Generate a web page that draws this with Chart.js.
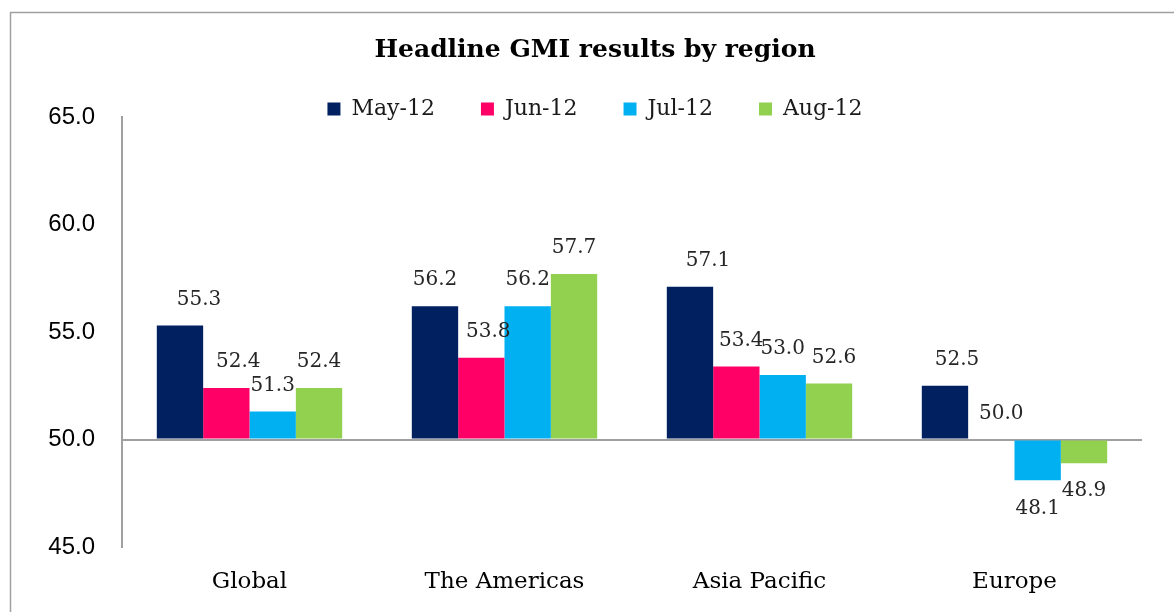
<!DOCTYPE html>
<html><head><meta charset="utf-8">
<script src="https://cdn.jsdelivr.net/npm/chart.js@4"></script>
<style>html,body{margin:0;padding:0;background:#fff}#wrap{width:1174px;height:612px;position:relative}</style>
</head><body><div id="wrap"><canvas id="c" width="1174" height="612"></canvas></div>
<script>
const categories = ['Global', 'The Americas', 'Asia Pacific', 'Europe'];
const seriesNames = ['May-12', 'Jun-12', 'Jul-12', 'Aug-12'];
const may12 = [55.3, 56.2, 57.1, 52.5];
const jun12 = [52.4, 53.8, 53.4, 50.0];
const jul12 = [51.3, 56.2, 53.0, 48.1];
const aug12 = [52.4, 57.7, 52.6, 48.9];
const yTicks = [45, 50, 55, 60, 65];
const baseValue = 50;

const colors = ['#002060', '#FF0066', '#00B0F0', '#92D050'];
const labelNudgeX = [[19, 0, 18, 12], [12, 7, 5, 10], [0, 0, 0, 0], [0, 0, 5, 0]];
const serif = "'DejaVu Serif', serif";

const frame = {
  id: 'frame',
  beforeDraw(chart) {
    const ctx = chart.ctx;
    ctx.save();
    ctx.strokeStyle = '#a0a0a0';
    ctx.lineWidth = 1.5;
    ctx.strokeRect(10.5, 12.5, 1400, 800);
    ctx.restore();
  }
};

// let the legend text draw past its (deliberately short) layout box
const legendRoom = {
  id: 'legendRoom',
  afterLayout(chart) {
    const l = chart.legend;
    if (l) { l.bottom += 15; l.height += 15; }
  }
};

const valueLabels = {
  id: 'valueLabels',
  afterDatasetsDraw(chart) {
    const ctx = chart.ctx;
    ctx.save();
    ctx.font = "20px " + serif;
    ctx.fillStyle = '#262626';
    ctx.textAlign = 'center';
    ctx.textBaseline = 'middle';
    chart.data.datasets.forEach((ds, di) => {
      const meta = chart.getDatasetMeta(di);
      meta.data.forEach((el, i) => {
        const v = ds.data[i];
        const y = v >= baseValue ? el.y - 26 : el.y + 28;
        ctx.fillText(v.toFixed(1), el.x + labelNudgeX[di][i], y);
      });
    });
    ctx.restore();
  }
};

const seriesData = [may12, jun12, jul12, aug12];
new Chart(document.getElementById('c'), {
  type: 'bar',
  data: {
    labels: categories,
    datasets: seriesNames.map((n, i) => ({
      label: n,
      data: seriesData[i],
      backgroundColor: colors[i],
      borderWidth: 0,
      base: baseValue,
      categoryPercentage: 0.727,
      barPercentage: 1
    }))
  },
  options: {
    responsive: false,
    animation: false,
    layout: { padding: { left: 48, right: 32, top: 0, bottom: 0 } },
    plugins: {
      title: {
        display: true,
        text: 'Headline GMI results by region',
        color: '#000',
        font: { family: serif, size: 25, weight: 'bold' },
        padding: { top: 35, bottom: -13 }
      },
      legend: {
        display: true,
        position: 'top',
        maxHeight: 65,
        labels: {
          color: '#1a1a1a',
          font: { family: serif, size: 22 },
          boxWidth: 13,
          boxHeight: 13,
          padding: 46
        }
      },
      tooltip: { enabled: false }
    },
    scales: {
      x: {
        grid: { display: false },
        border: { display: false },
        ticks: { color: '#000', font: { family: serif, size: 23 }, padding: 13 },
        afterFit(s) { s.height = 65; }
      },
      y: {
        min: 45, max: 65,
        afterBuildTicks(s) { s.ticks = yTicks.map(v => ({ value: v })); },
        grid: {
          drawTicks: false,
          color: ctx => (ctx.tick && ctx.tick.value === baseValue) ? '#a0a0a0' : 'rgba(0,0,0,0)',
          lineWidth: 2
        },
        border: { display: true, color: '#a0a0a0', width: 2 },
        ticks: {
          color: '#000',
          font: { family: "'Liberation Sans', Arial, sans-serif", size: 24 },
          padding: 27,
          callback: v => Number(v).toFixed(1)
        },
        afterFit(s) { s.width = 74; }
      }
    }
  },
  plugins: [frame, legendRoom, valueLabels]
});
</script>
</body></html>
